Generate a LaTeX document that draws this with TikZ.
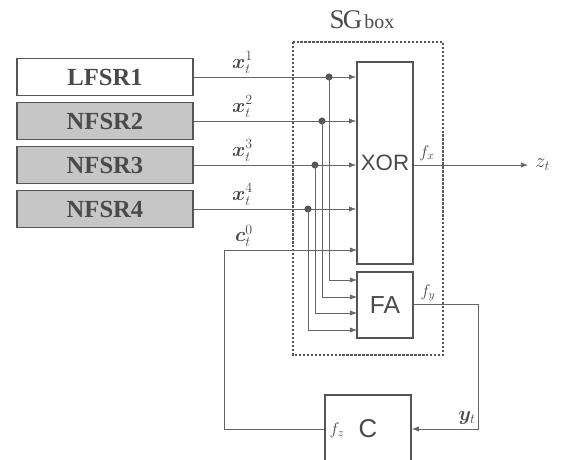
\documentclass[tikz,border=0pt]{standalone}
\usepackage{fontspec}
\setmainfont{Liberation Serif}
\newfontfamily\arialfont{Liberation Sans}
\usepackage{bm}
\usetikzlibrary{arrows.meta}
\definecolor{regfill}{HTML}{C6C6C6}
\definecolor{wiregray}{HTML}{666666}
\definecolor{edgegray}{HTML}{555555}
\definecolor{inkgray}{HTML}{4A4A4A}

\tikzset{
  regbox/.style={draw=edgegray, line width=1.5pt, minimum width=5.28cm, minimum height=1.11cm,
    inner sep=0pt, text=inkgray, font=\fontsize{21}{23}\selectfont\bfseries},
  gatebox/.style={draw=edgegray, line width=1.5pt, fill=white, minimum width=1.68cm, inner sep=0pt,
    text=inkgray, font=\arialfont\fontsize{19}{21}\selectfont},
  wire/.style={draw=wiregray, line width=0.6pt},
  arr/.style={-{Latex[length=6pt,width=4.5pt]}},
  lab/.style={text=inkgray, inner sep=1pt, font=\fontsize{18}{20}\selectfont},
  tap/.style={circle, fill=edgegray, inner sep=0pt, minimum size=6pt},
}

\begin{document}
\begin{tikzpicture}[x=0.03cm, y=-0.03cm]
  \useasboundingbox (0,0) rectangle (566,460);
  \clip (0,0) rectangle (566,460);

  % --- the four registers ---
  \node[regbox, fill=white]   (lfsr1) at (105,77)  {LFSR1};
  \node[regbox, fill=regfill] (nfsr2) at (105,121) {NFSR2};
  \node[regbox, fill=regfill] (nfsr3) at (105,165) {NFSR3};
  \node[regbox, fill=regfill] (nfsr4) at (105,209) {NFSR4};

  % --- SG box ---
  \draw[edgegray, line width=2.2pt, dash pattern=on 2pt off 1.4pt] (293,42) rectangle (443,355);
  \node[text=inkgray] (sgname) at (362,20) {{\fontsize{23}{25}\selectfont S\kern-1.5ptG}\,{\fontsize{17}{19}\selectfont box}};

  \node[gatebox, minimum height=6.06cm] (xor) at (385,163) {XOR};
  \node[gatebox, minimum height=1.98cm, font=\arialfont\fontsize{21}{23}\selectfont] (fa) at (385,305) {FA};
  \node[gatebox, minimum width=2.58cm, minimum height=2.04cm, font=\arialfont\fontsize{22}{24}\selectfont] (c) at (368,429) {C};

  % --- register outputs into XOR ---
  \draw[wire, arr] (lfsr1.east) -- (lfsr1.east -| xor.west) node[lab, pos=0.3, above=2pt] {$\bm{x}_t^1$};
  \draw[wire, arr] (nfsr2.east) -- (nfsr2.east -| xor.west) node[lab, pos=0.3, above=2pt] {$\bm{x}_t^2$};
  \draw[wire, arr] (nfsr3.east) -- (nfsr3.east -| xor.west) node[lab, pos=0.3, above=2pt] {$\bm{x}_t^3$};
  \draw[wire, arr] (nfsr4.east) -- (nfsr4.east -| xor.west) node[lab, pos=0.3, above=2pt] {$\bm{x}_t^4$};

  % --- taps down to FA ---
  \node[tap] (t1) at (329,77)  {};
  \node[tap] (t2) at (322,121) {};
  \node[tap] (t3) at (315,165) {};
  \node[tap] (t4) at (308,209) {};
  \foreach \t/\y in {t1/280, t2/297, t3/313, t4/330}
    \draw[wire, arr] (\t.center) |- (357,\y);

  % --- outputs ---
  \coordinate (zend) at (528,165);
  \draw[wire, arr] (xor.east |- zend) -- (zend) node[lab, right=5pt] {$z_t$};
  \node[lab, font=\fontsize{14}{15}\selectfont] (fx) at (427,153) {$f_x$};

  \coordinate (yturn) at (478,304);
  \draw[wire, arr] (fa.east |- yturn) -- (yturn) |- (c.east);
  \node[lab, font=\fontsize{14}{15}\selectfont] (fy) at (428,293) {$f_y$};
  \node[lab] (yt) at (467,418) {$\bm{y}_t$};

  % --- carry back into XOR ---
  \coordinate (cturn) at (224,429);
  \coordinate (cin) at (357,250);
  \draw[wire, arr] (c.west) -- (cturn) |- (cin);
  \node[lab] (ct) at (244,236) {$\bm{c}_t^0$};
  \node[lab, font=\fontsize{14}{15}\selectfont] (fz) at (337,430) {$f_z$};
\end{tikzpicture}
\end{document}
